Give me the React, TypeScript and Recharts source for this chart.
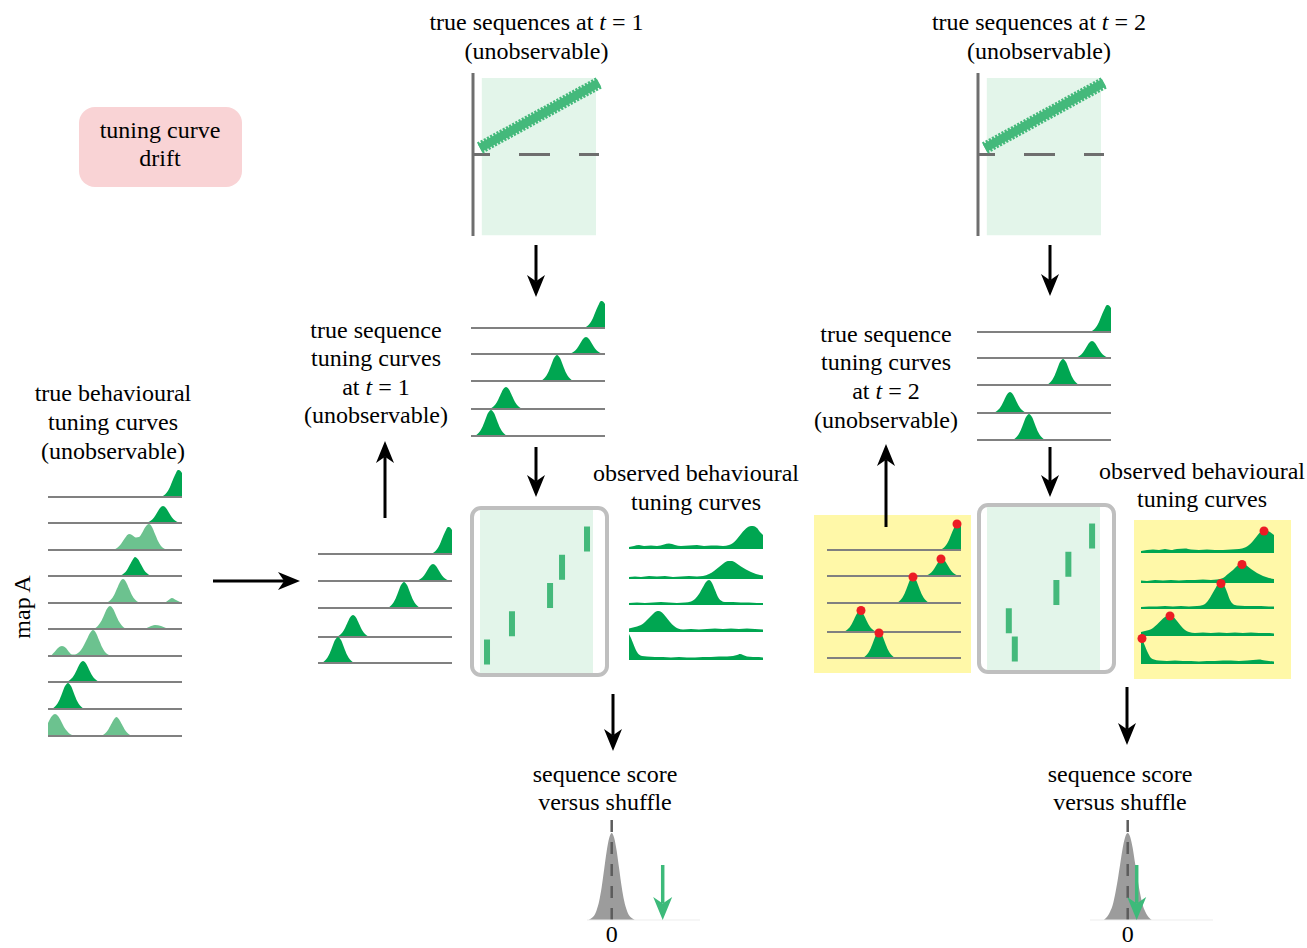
import React from 'react';
import {
  ComposedChart,
  ScatterChart,
  Area,
  Line,
  Scatter,
  XAxis,
  YAxis,
  ReferenceLine,
  ReferenceDot,
  ReferenceArea,
} from 'recharts';

// ---------------- DATA ----------------
type Pt = [number, number];

// Position along the track: 0..134, tuning curve heights in firing units.
const TRACK_DOMAIN: [number, number] = [0, 134];

// True sequence tuning curves at t = 1 (top to bottom)
const SEQ_T1_CURVES: Pt[][] = [
  [[0, 0], [112, 0], [117, 2.5], [121, 8], [124, 15], [127, 22], [130, 27], [132, 26.5], [134, 24]],
  [[0, 0], [97, 0], [103, 2.4], [106, 5.4], [109, 10.2], [112, 15], [115, 17], [118, 15], [121, 10.2], [124, 5.4], [127, 2.4], [133, 0], [134, 0]],
  [[0, 0], [68, 0], [74, 3.6], [77, 8.3], [80, 15.6], [83, 22.9], [86, 26], [89, 22.9], [92, 15.6], [95, 8.3], [98, 3.6], [104, 0], [134, 0]],
  [[0, 0], [17, 0], [23, 3.1], [26, 7], [29, 13.2], [32, 19.4], [35, 22], [38, 19.4], [41, 13.2], [44, 7], [47, 3.1], [53, 0], [134, 0]],
  [[0, 0], [2, 0], [8, 3.6], [11, 8.3], [14, 15.6], [17, 22.9], [20, 26], [23, 22.9], [26, 15.6], [29, 8.3], [32, 3.6], [38, 0], [134, 0]],
];

// True sequence tuning curves at t = 2 (top to bottom)
const SEQ_T2_CURVES: Pt[][] = [
  [[0, 0], [112, 0], [117, 2.5], [121, 8], [124, 15], [127, 22], [130, 27], [132, 26.5], [134, 24]],
  [[0, 0], [97, 0], [103, 2.4], [106, 5.4], [109, 10.2], [112, 15], [115, 17], [118, 15], [121, 10.2], [124, 5.4], [127, 2.4], [133, 0], [134, 0]],
  [[0, 0], [68, 0], [74, 3.6], [77, 8.3], [80, 15.6], [83, 22.9], [86, 26], [89, 22.9], [92, 15.6], [95, 8.3], [98, 3.6], [104, 0], [134, 0]],
  [[0, 0], [15, 0], [21, 2.9], [24, 6.7], [27, 12.6], [30, 18.5], [33, 21], [36, 18.5], [39, 12.6], [42, 6.7], [45, 2.9], [51, 0], [134, 0]],
  [[0, 0], [34, 0], [40, 3.6], [43, 8.3], [46, 15.6], [49, 22.9], [52, 26], [55, 22.9], [58, 15.6], [61, 8.3], [64, 3.6], [70, 0], [134, 0]],
];
const SEQ_T2_PEAKS: Pt[] = [[130, 26], [114, 17], [86, 26], [34, 21.5], [52, 25]];

// True behavioural tuning curves (map A), top to bottom
const BEHAV_CURVES: Pt[][] = [
  [[0, 0], [112, 0], [117, 2.5], [121, 8], [124, 15], [127, 22], [130, 27], [132, 26.5], [134, 24]],
  [[0, 0], [97, 0], [103, 2.4], [106, 5.4], [109, 10.2], [112, 15], [115, 17], [118, 15], [121, 10.2], [124, 5.4], [127, 2.4], [133, 0], [134, 0]],
  [[0, 0], [64, 0], [69, 2], [73, 6], [77, 12], [81, 16], [84, 15], [88, 12.5], [91, 13], [94, 17], [97, 22.5], [101, 26], [104, 23], [107, 16], [110, 9], [113, 4], [116, 1.5], [120, 0], [134, 0]],
  [[0, 0], [70, 0], [76, 2.7], [79, 6.1], [82, 11.4], [85, 16.7], [87, 19], [90, 16.7], [93, 11.4], [96, 6.1], [99, 2.7], [105, 0], [134, 0]],
  [[0, 0], [57, 0], [63, 3.4], [66, 7.7], [69, 14.4], [72, 21.1], [75, 24], [78, 21.1], [81, 14.4], [84, 7.7], [87, 3.4], [93, 0], [116, 0], [120, 2.5], [124, 5], [128, 3], [132, 1], [134, 0.5]],
  [[0, 0], [44, 0], [50, 3.2], [53, 7.4], [56, 13.8], [59, 20.2], [62, 23], [65, 20.2], [68, 13.8], [71, 7.4], [74, 3.2], [80, 0], [96, 0], [101, 2], [107, 4], [113, 3], [118, 1], [122, 0], [134, 0]],
  [[0, 0], [2, 0], [6, 3.5], [10, 8], [14, 10], [18, 8], [21, 4], [24, 1.5], [27, 1.5], [30, 3], [33, 6], [36, 11], [39, 17], [42, 23], [45, 26], [48, 23], [51, 16], [54, 9], [57, 4], [60, 1.5], [64, 0], [134, 0]],
  [[0, 0], [17, 0], [23, 2.9], [26, 6.7], [29, 12.6], [32, 18.5], [35, 21], [38, 18.5], [41, 12.6], [44, 6.7], [47, 2.9], [53, 0], [134, 0]],
  [[0, 0], [2, 0], [8, 3.6], [11, 8.3], [14, 15.6], [17, 22.9], [20, 26], [23, 22.9], [26, 15.6], [29, 8.3], [32, 3.6], [38, 0], [134, 0]],
  [[0, 13], [2, 17], [4, 20], [7, 22], [10, 20], [13, 15], [16, 9], [19, 5], [22, 2], [26, 0.5], [30, 0], [52, 0], [57, 2.6], [60, 6], [63, 11.4], [66, 16.7], [68.5, 19], [71, 16.7], [74, 11.4], [77, 6], [80, 2.6], [85, 0], [134, 0]],
];
// whether each behavioural cell belongs to the sequence (dark) or not (light)
const BEHAV_IN_SEQUENCE: boolean[] = [true, true, false, true, false, false, false, true, true, false];

// Observed behavioural tuning curves (t = 1)
const OBS_T1_CURVES: Pt[][] = [
  [[0, 2], [5, 3], [10, 4], [15, 3], [22, 3.5], [28, 3], [35, 4.5], [40, 5.5], [46, 4], [52, 3], [60, 3.5], [68, 4], [75, 3], [82, 3.5], [88, 3.5], [94, 3], [100, 4], [104, 6], [108, 10], [112, 15], [116, 19.5], [120, 22.5], [124, 23], [128, 21], [131, 17], [134, 14]],
  [[0, 2], [6, 2.5], [12, 2], [20, 3], [28, 2.5], [36, 3], [44, 2], [52, 2.5], [60, 3], [68, 2.5], [74, 3], [80, 5], [85, 8], [90, 12], [95, 16], [99, 18], [103, 18], [107, 16], [112, 12.5], [117, 9.5], [122, 7], [127, 5], [131, 4], [134, 3.5]],
  [[0, 2], [8, 2.5], [16, 2], [24, 2.5], [32, 3], [40, 2.5], [48, 2], [56, 2.5], [62, 3.5], [66, 6], [70, 11], [74, 18], [77, 23], [80, 25], [83, 22], [86, 15], [89, 8], [92, 4.5], [96, 3], [104, 3], [112, 2.5], [120, 2.5], [128, 2], [134, 2]],
  [[0, 3.5], [4, 4.5], [8, 5.5], [12, 7], [16, 10], [20, 14], [24, 18], [27, 20.5], [30, 21], [33, 19.5], [37, 15], [41, 10], [45, 6], [49, 3.5], [54, 2.5], [62, 3], [70, 2.5], [78, 3], [86, 3.5], [94, 3], [102, 3.5], [110, 3], [118, 3.5], [126, 3], [134, 2.5]],
  [[0, 26], [2, 22], [4, 17], [6, 12], [8, 8], [10, 5.5], [13, 4], [18, 3.5], [26, 3], [34, 3], [42, 2.5], [50, 3], [58, 2.5], [66, 2.5], [74, 3], [82, 3], [90, 3.5], [98, 3.5], [104, 4], [108, 5], [111, 6], [114, 5], [118, 3.5], [124, 3], [130, 3], [134, 2.5]],
];

// Observed behavioural tuning curves (t = 2)
const OBS_T2_CURVES: Pt[][] = [
  [[0, 2], [6, 3], [12, 3.5], [18, 3], [24, 4], [30, 3], [36, 4], [44, 4.5], [50, 3.5], [58, 3], [66, 3.5], [74, 3], [82, 3], [90, 3.5], [98, 4], [104, 5.5], [108, 8], [112, 12], [116, 17], [120, 21.5], [123, 23], [127, 22], [131, 19.5], [133, 18]],
  [[0, 2.5], [6, 2], [14, 3], [22, 2.5], [30, 3], [38, 2.5], [46, 3], [54, 3], [62, 3.5], [70, 3], [76, 3.5], [82, 5], [87, 9], [92, 13], [96, 17], [101, 20], [105, 18], [110, 14], [116, 10], [122, 7], [128, 5], [133, 4]],
  [[0, 2], [8, 2.5], [16, 2.5], [24, 3], [32, 2.5], [40, 3], [48, 2.5], [56, 3], [62, 4], [66, 7], [70, 13], [74, 20], [77, 25], [80, 27], [83, 24], [86, 17], [89, 9], [92, 5], [96, 3.5], [104, 3], [112, 3], [120, 3], [128, 2.5], [133, 2.5]],
  [[0, 4], [4, 5], [8, 6], [12, 8], [16, 11.5], [20, 15.5], [24, 19], [29, 21], [32, 19.5], [36, 15], [40, 10], [44, 6], [48, 4], [54, 3], [62, 3.5], [70, 3], [78, 3.5], [86, 3], [94, 3.5], [102, 3], [110, 3.5], [118, 3], [126, 3], [133, 2.5]],
  [[0, 27], [2, 23], [4, 18], [6, 13], [8, 9], [10, 6], [13, 4.5], [18, 3.5], [26, 3], [34, 3.5], [42, 3], [50, 3], [58, 2.5], [66, 3], [74, 3], [82, 3.5], [90, 3.5], [98, 3], [106, 3.5], [112, 4], [118, 4.5], [124, 3.5], [128, 3], [133, 2.5]],
];
const OBS_T2_PEAKS: Pt[] = [[123, 22], [101, 18.5], [80, 25.5], [29, 20], [1, 25.5]];

// Raster: firing position (fraction of track) for each cell (1 = top)
const RASTER_T1 = [
  { pos: 0.947, cell: 1 },
  { pos: 0.726, cell: 2 },
  { pos: 0.62, cell: 3 },
  { pos: 0.283, cell: 4 },
  { pos: 0.062, cell: 5 },
];
const RASTER_T2 = [
  { pos: 0.93, cell: 1 },
  { pos: 0.72, cell: 2 },
  { pos: 0.614, cell: 3 },
  { pos: 0.193, cell: 4 },
  { pos: 0.246, cell: 5 },
];

// True sequence trajectory (time, position)
const SEQ_LINE = [
  { t: 0.055, p: 0.08 },
  { t: 1.0, p: 0.88 },
];

// Shuffle distributions of the sequence score
const SHUFFLE_T1 = [
  { s: -2.3, d: 0 }, { s: -2.0, d: 2 }, { s: -1.75, d: 4.5 }, { s: -1.5, d: 10 }, { s: -1.25, d: 19 },
  { s: -1.0, d: 33 }, { s: -0.75, d: 51 }, { s: -0.5, d: 69 }, { s: -0.25, d: 82 }, { s: 0, d: 87 },
  { s: 0.25, d: 82 }, { s: 0.5, d: 69 }, { s: 0.75, d: 51 }, { s: 1.0, d: 33 }, { s: 1.25, d: 19 },
  { s: 1.5, d: 10 }, { s: 1.75, d: 4.5 }, { s: 2.0, d: 2 }, { s: 2.3, d: 0 },
];
const SHUFFLE_T2 = [
  { s: -2.4, d: 0 }, { s: -2.0, d: 4 }, { s: -1.75, d: 8.5 }, { s: -1.5, d: 15 }, { s: -1.25, d: 26 },
  { s: -1.0, d: 40 }, { s: -0.75, d: 56 }, { s: -0.5, d: 72 }, { s: -0.25, d: 83 }, { s: 0, d: 87 },
  { s: 0.25, d: 83 }, { s: 0.5, d: 72 }, { s: 0.75, d: 56 }, { s: 1.0, d: 40 }, { s: 1.25, d: 26 },
  { s: 1.5, d: 15 }, { s: 1.75, d: 8.5 }, { s: 2.0, d: 4 }, { s: 2.4, d: 0 },
];
const OBS_SCORE_T1 = 5.1;
const OBS_SCORE_T2 = 0.9;
const SCORE_TICKS = [0];

// ---------------- STYLE ----------------
const FONT = '"Liberation Serif", "Times New Roman", Times, serif';
const DARK = '#00a651';
const LIGHT = '#6cc28f';
const MID = '#44b97b';
const PALE = '#e3f5ea';
const RIDGE_LINE = '#808080';
const AXIS_GREY = '#6e6e6e';
const RED = '#ec1c24';
const YELLOW = '#fff8a8';
const PINK = '#f9d3d5';

const ROW_H = 34;
const RIDGE_W = 134;
const PAD = 6;

function RidgeRow({ pts, color, left, baseline, line, dot }: { pts: Pt[]; color: string; left: number; baseline: number; line: boolean; dot?: Pt }) {
  const data = pts.map(([x, y]) => ({ x, y }));
  return (
    <div style={{ position: 'absolute', left: left - PAD, top: baseline - ROW_H, width: RIDGE_W + 2 * PAD, height: ROW_H + 3 }}>
      <ComposedChart width={RIDGE_W + 2 * PAD} height={ROW_H + 3} data={data} margin={{ top: 0, right: PAD, bottom: 3, left: PAD }}>
        <XAxis type="number" dataKey="x" domain={TRACK_DOMAIN} hide />
        <YAxis type="number" domain={[0, ROW_H]} hide />
        <Area type="monotone" dataKey="y" fill={color} fillOpacity={1} stroke="none" isAnimationActive={false} />
        {line && <ReferenceLine y={0} stroke={RIDGE_LINE} strokeWidth={2} />}
        {dot && <ReferenceDot x={dot[0]} y={dot[1]} r={4.5} fill={RED} stroke="none" />}
      </ComposedChart>
    </div>
  );
}

function Ridge({ curves, colors, left, baselines, line, dots }: { curves: Pt[][]; colors: string[]; left: number; baselines: number[]; line: boolean; dots?: Pt[] }) {
  return (
    <>
      {curves.map((c, i) => (
        <RidgeRow key={i} pts={c} color={colors[i]} left={left} baseline={baselines[i]} line={line} dot={dots ? dots[i] : undefined} />
      ))}
    </>
  );
}

function SeqPanel({ left }: { left: number }) {
  return (
    <div style={{ position: 'absolute', left: left - 3, top: 73 }}>
      <ComposedChart width={3 + 126 + 8} height={163} data={SEQ_LINE} margin={{ top: 0, right: 8, bottom: 0, left: 3 }}>
        <XAxis type="number" dataKey="t" domain={[0, 1]} hide />
        <YAxis type="number" domain={[-1, 1]} hide />
        <ReferenceArea x1={0.07} x2={0.976} y1={-0.99} y2={0.94} fill={PALE} fillOpacity={1} stroke="none" />
        <ReferenceLine x={0} stroke={AXIS_GREY} strokeWidth={3} />
        <ReferenceLine y={0} stroke={AXIS_GREY} strokeWidth={3} strokeDasharray="31 29" strokeDashoffset={14} />
        <Line dataKey="p" stroke={MID} strokeWidth={12.5} strokeDasharray="2.2 1.4" dot={false} isAnimationActive={false} />
        <Line dataKey="p" stroke={MID} strokeWidth={8.5} dot={false} isAnimationActive={false} />
      </ComposedChart>
    </div>
  );
}

const RasterTick = (props: any) => {
  const { cx, cy } = props;
  return <rect x={cx - 3} y={cy - 12.5} width={6} height={25} fill={MID} />;
};

const RASTER_DOMAIN: [number, number] = [-0.027, 5.743];

function Raster({ frameLeft, frameTop, data }: { frameLeft: number; frameTop: number; data: { pos: number; cell: number }[] }) {
  return (
    <>
      <div
        style={{
          position: 'absolute',
          left: frameLeft,
          top: frameTop,
          width: 139,
          height: 171,
          boxSizing: 'border-box',
          border: '4px solid #bfbfbf',
          borderRadius: 11,
        }}
      />
      <div style={{ position: 'absolute', left: frameLeft + 10, top: frameTop + 4 }}>
        <ScatterChart width={125} height={163} margin={{ top: 0, right: 12, bottom: 0, left: 0 }}>
          <XAxis type="number" dataKey="pos" domain={[0, 1]} hide />
          <YAxis type="number" dataKey="cell" domain={RASTER_DOMAIN} reversed hide />
          <ReferenceArea x1={0} x2={1} y1={RASTER_DOMAIN[0]} y2={RASTER_DOMAIN[1]} fill={PALE} fillOpacity={1} stroke="none" />
          <Scatter data={data} shape={RasterTick} isAnimationActive={false} />
        </ScatterChart>
      </div>
    </>
  );
}

function arrowPath(x1: number, y1: number, x2: number, y2: number, head: number, half: number) {
  const dx = x2 - x1;
  const dy = y2 - y1;
  const L = Math.hypot(dx, dy);
  const ux = dx / L;
  const uy = dy / L;
  const px = -uy;
  const py = ux;
  const bx = x2 - ux * head;
  const by = y2 - uy * head;
  const nx = x2 - ux * head * 0.72;
  const ny = y2 - uy * head * 0.72;
  return {
    head: `M${x2},${y2} L${bx + px * half},${by + py * half} L${nx},${ny} L${bx - px * half},${by - py * half} Z`,
    nx,
    ny,
  };
}

const GreenArrow = (props: any) => {
  const { cx, cy } = props;
  const a = arrowPath(cx, cy - 55, cx, cy, 23, 9.5);
  return (
    <g>
      <line x1={cx} y1={cy - 55} x2={a.nx} y2={a.ny} stroke="#3dba7a" strokeWidth={3.5} />
      <path d={a.head} fill="#3dba7a" />
    </g>
  );
};

function ShuffleChart({ left, width, domain, data, obs }: { left: number; width: number; domain: [number, number]; data: { s: number; d: number }[]; obs: number }) {
  return (
    <div style={{ position: 'absolute', left, top: 819 }}>
      <ComposedChart width={width} height={101 + 28} data={data} margin={{ top: 0, right: 0, bottom: 0, left: 0 }}>
        <XAxis
          type="number"
          dataKey="s"
          domain={domain}
          ticks={SCORE_TICKS}
          interval={0}
          height={28}
          tickLine={false}
          tickSize={4}
          tickMargin={1}
          axisLine={{ stroke: '#ededed' }}
          tick={{ fontFamily: FONT, fontSize: 24, fill: '#000' }}
        />
        <YAxis type="number" domain={[0, 101]} hide />
        <Area type="monotone" dataKey="d" fill="#9c9c9c" fillOpacity={1} stroke="none" isAnimationActive={false} />
        <ReferenceLine x={0} stroke="#5c5c5c" strokeWidth={2.5} strokeDasharray="12 10" />
        <ReferenceDot x={obs} y={0} r={1} shape={GreenArrow} />
      </ComposedChart>
    </div>
  );
}

function TextBlock({ cx, y0, lh, lines }: { cx: number; y0: number; lh: number; lines: React.ReactNode[] }) {
  return (
    <div
      style={{
        position: 'absolute',
        left: cx - 200,
        width: 400,
        top: y0 - lh / 2,
        lineHeight: `${lh}px`,
        fontSize: 24,
        fontFamily: FONT,
        textAlign: 'center',
        color: '#000',
        whiteSpace: 'nowrap',
      }}
    >
      {lines.map((l, i) => (
        <div key={i}>{l}</div>
      ))}
    </div>
  );
}

const BLACK_ARROWS: [number, number, number, number][] = [
  [536, 245, 536, 297],
  [536, 447, 536, 497],
  [1050, 245, 1050, 296],
  [1050, 447, 1050, 497],
  [385, 518, 385, 441],
  [886, 527, 886, 444],
  [213, 581, 300, 581],
  [613, 694, 613, 751],
  [1127, 687, 1127, 745],
];

export default function App() {
  const behavColors = BEHAV_IN_SEQUENCE.map((b) => (b ? DARK : LIGHT));
  const dark5 = [DARK, DARK, DARK, DARK, DARK];
  return (
    <div style={{ position: 'absolute', left: 0, top: 0, width: 1307, height: 948, background: '#fff', overflow: 'hidden', fontFamily: FONT }}>
      {/* backgrounds */}
      <div style={{ position: 'absolute', left: 79, top: 107, width: 163, height: 80, background: PINK, borderRadius: 16 }} />
      <div style={{ position: 'absolute', left: 814, top: 515, width: 157, height: 158, background: YELLOW }} />
      <div style={{ position: 'absolute', left: 1134, top: 520, width: 157, height: 159, background: YELLOW }} />

      {/* texts */}
      <TextBlock cx={536.5} y0={22} lh={29} lines={[<>true sequences at <i>t</i> = 1</>, '(unobservable)']} />
      <TextBlock cx={1039} y0={22} lh={29} lines={[<>true sequences at <i>t</i> = 2</>, '(unobservable)']} />
      <TextBlock cx={160} y0={130} lh={28} lines={['tuning curve', 'drift']} />
      <TextBlock cx={376} y0={330} lh={28.5} lines={['true sequence', 'tuning curves', <>at <i>t</i> = 1</>, '(unobservable)']} />
      <TextBlock cx={886} y0={334} lh={28.7} lines={['true sequence', 'tuning curves', <>at <i>t</i> = 2</>, '(unobservable)']} />
      <TextBlock cx={113} y0={393} lh={29} lines={['true behavioural', 'tuning curves', '(unobservable)']} />
      <TextBlock cx={696} y0={473} lh={29} lines={['observed behavioural', 'tuning curves']} />
      <TextBlock cx={1202} y0={471} lh={28} lines={['observed behavioural', 'tuning curves']} />
      <TextBlock cx={605} y0={774} lh={28} lines={['sequence score', 'versus shuffle']} />
      <TextBlock cx={1120} y0={774} lh={28} lines={['sequence score', 'versus shuffle']} />
      <div
        style={{
          position: 'absolute',
          left: 22 - 50,
          top: 607 - 15,
          width: 100,
          height: 30,
          lineHeight: '30px',
          textAlign: 'center',
          fontSize: 24,
          fontFamily: FONT,
          transform: 'rotate(-90deg)',
        }}
      >
        map A
      </div>

      {/* top sequence panels */}
      <SeqPanel left={473} />
      <SeqPanel left={978} />

      {/* ridges */}
      <Ridge curves={BEHAV_CURVES} colors={behavColors} left={48} baselines={[496.7, 522.7, 549.7, 575.7, 602.7, 629.3, 655.7, 682.3, 709.3, 736.3]} line />
      <Ridge curves={SEQ_T1_CURVES} colors={dark5} left={471} baselines={[327.7, 353.7, 380.7, 409.3, 435.7]} line />
      <Ridge curves={SEQ_T1_CURVES} colors={dark5} left={318} baselines={[554.3, 580.7, 607.7, 636.7, 663.3]} line />
      <Ridge curves={SEQ_T2_CURVES} colors={dark5} left={977} baselines={[331.7, 358, 384.7, 412.7, 439.7]} line />
      <Ridge curves={SEQ_T2_CURVES} colors={dark5} left={827} baselines={[550, 576, 602.7, 631.7, 657.7]} line dots={SEQ_T2_PEAKS} />
      <Ridge curves={OBS_T1_CURVES} colors={dark5} left={629} baselines={[549.3, 579.3, 605, 632.3, 660]} line={false} />
      <Ridge curves={OBS_T2_CURVES} colors={dark5} left={1141} baselines={[553.3, 583, 608.7, 636.3, 663.7]} line={false} dots={OBS_T2_PEAKS} />

      {/* rasters */}
      <Raster frameLeft={470} frameTop={506} data={RASTER_T1} />
      <Raster frameLeft={977} frameTop={503} data={RASTER_T2} />

      {/* shuffle distributions */}
      <ShuffleChart left={587} width={113} domain={[-2.47, 8.83]} data={SHUFFLE_T1} obs={OBS_SCORE_T1} />
      <ShuffleChart left={1090} width={123} domain={[-3.77, 8.53]} data={SHUFFLE_T2} obs={OBS_SCORE_T2} />

      {/* arrows */}
      <svg width={1307} height={948} style={{ position: 'absolute', left: 0, top: 0, pointerEvents: 'none' }}>
        {BLACK_ARROWS.map(([x1, y1, x2, y2], i) => {
          const a = arrowPath(x1, y1, x2, y2, 22, 9);
          return (
            <g key={i}>
              <line x1={x1} y1={y1} x2={a.nx} y2={a.ny} stroke="#000" strokeWidth={3} />
              <path d={a.head} fill="#000" />
            </g>
          );
        })}
      </svg>
    </div>
  );
}
